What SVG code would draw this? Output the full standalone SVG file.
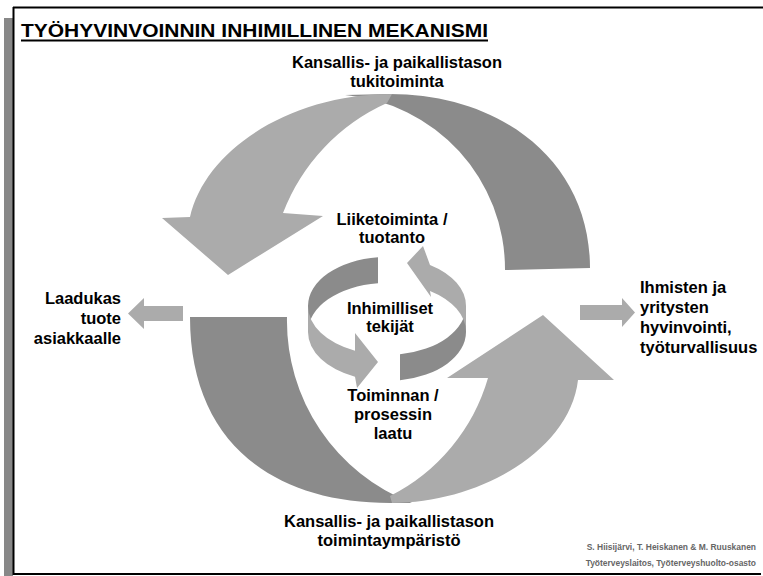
<svg xmlns="http://www.w3.org/2000/svg" width="763" height="576" viewBox="0 0 763 576">
<style>
text { font-family: "Liberation Sans", Arial, Helvetica, sans-serif; font-weight: bold; font-size: 16.5px; fill: #000; }
.c { text-anchor: middle; }
.r { text-anchor: end; }
.light { fill: #ababab; }
.dark { fill: #8b8b8b; }
.foot { font-size: 9.6px; fill: #666; text-anchor: end; }
</style>
<rect width="763" height="576" fill="#fff"/>
<g id="frame">
<rect x="4" y="18" width="9" height="558" fill="#888"/>
<line x1="13" y1="7.5" x2="763" y2="7.5" stroke="#000" stroke-width="2"/>
<line x1="13.5" y1="7" x2="13.5" y2="575" stroke="#000" stroke-width="2"/>
<line x1="13" y1="574" x2="761" y2="574" stroke="#000" stroke-width="2"/>
</g>
<g id="title">
<text x="21" y="37" textLength="467" lengthAdjust="spacingAndGlyphs" style="font-size:19px">TYÖHYVINVOINNIN INHIMILLINEN MEKANISMI</text>
<rect x="21" y="39.5" width="467" height="2" fill="#000"/>
</g>
<g id="connectors">
<path id="top-dark" class="dark" d="M 505,270 L 590,268 C 590,160 500,94 390,94 L 345,95 A 175 175 0 0 1 505,270 Z"/>
<path id="top-light" class="light" d="M 392,94 C 290,94 205,150 190,217 L 162,218 L 228,275 L 323,216 L 283,213 A 198 198 0 0 1 387,103 Z"/>
<path id="bottom-dark" class="dark" d="M 190,317 L 287,317 A 195 195 0 0 0 412,503 L 390,503 C 270,503 190,440 190,317 Z"/>
<path id="bottom-light" class="light" d="M 392,503 C 480,503 570,450 578,380 L 614,380 L 543,315 L 447,378 L 488,378 A 192 192 0 0 1 390,496 Z"/>
<path id="ring-a" class="dark" d="M 378,257.3 A 79 49 0 0 0 308,306 L 308,332 A 79 49 0 0 1 378,283.3 Z"/>
<path id="ring-b" class="light" d="M 308,306 A 79 49 0 0 0 355,350.8 L 355,333 L 378,362 L 357,388 L 355,376.8 A 79 49 0 0 1 308,332 Z"/>
<path id="ring-c" class="dark" d="M 400,354.3 A 79 49 0 0 0 466,306 L 466,332 A 79 49 0 0 1 400,380.3 Z"/>
<path id="ring-d" class="light" d="M 466,306 A 79 49 0 0 0 430,264.9 L 423,246 L 407,263 L 431,297 L 430,290.9 A 79 49 0 0 1 466,332 Z"/>
<path id="arrow-left" class="light" d="M 183,306 L 144,306 L 144,298 L 128,313.5 L 144,329 L 144,321 L 183,321 Z"/>
<path id="arrow-right" class="light" d="M 580,305 L 622,305 L 622,298 L 635,312.5 L 622,327 L 622,320 L 580,320 Z"/>
</g>
<g id="node-tuki"><text class="c" x="397" y="68">Kansallis- ja paikallistason</text><text class="c" x="397" y="87">tukitoiminta</text></g>
<g id="node-liike"><text class="c" x="392" y="225">Liiketoiminta /</text><text class="c" x="392" y="243">tuotanto</text></g>
<g id="node-inhimilliset"><text class="c" x="390" y="314">Inhimilliset</text><text class="c" x="390" y="332">tekijät</text></g>
<g id="node-toiminnan"><text class="c" x="393" y="401">Toiminnan /</text><text class="c" x="393" y="420">prosessin</text><text class="c" x="393" y="439">laatu</text></g>
<g id="node-ymparisto"><text class="c" x="389" y="527">Kansallis- ja paikallistason</text><text class="c" x="389" y="546">toimintaympäristö</text></g>
<g id="node-laadukas"><text class="r" x="121" y="304">Laadukas</text><text class="r" x="121" y="324">tuote</text><text class="r" x="121" y="344">asiakkaalle</text></g>
<g id="node-ihmisten"><text x="640" y="293">Ihmisten ja</text><text x="640" y="313">yritysten</text><text x="640" y="333">hyvinvointi,</text><text x="640" y="353">työturvallisuus</text></g>
<g id="footer"><text class="foot" transform="translate(756,550) scale(0.88,1)" x="0" y="0">S. Hiisijärvi, T. Heiskanen &amp; M. Ruuskanen</text><text class="foot" transform="translate(756,566) scale(0.88,1)" x="0" y="0">Työterveyslaitos, Työterveyshuolto-osasto</text></g>
</svg>
